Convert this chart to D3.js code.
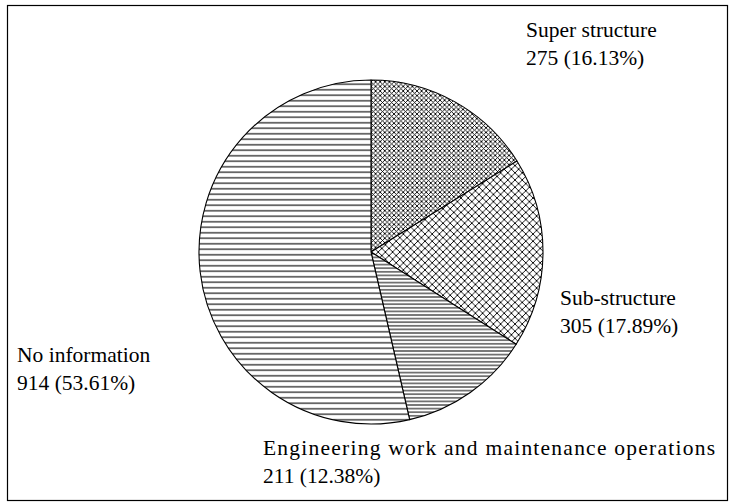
<!DOCTYPE html>
<html>
<head>
<meta charset="utf-8">
<script src="https://cdn.jsdelivr.net/npm/d3@7"></script>
<style>
  html, body { margin: 0; padding: 0; background: #fff; }
  svg text { font-family: "Liberation Serif", "Times New Roman", serif; fill: #000; }
</style>
</head>
<body>
<svg id="chart" width="731" height="504"></svg>
<script>
// data
const categories = ['Super structure', 'Sub-structure', 'Engineering work and maintenance operations', 'No information'];
const counts = [275, 305, 211, 914];
const percents = [16.13, 17.89, 12.38, 53.61];
const patternIds = ['hatchFine', 'hatchCoarse', 'linesDense', 'linesWide'];

// label placement (layout only); span = stretched width of the first line, if any
const labelPos = [
  { x: 526, y: 37 },
  { x: 560, y: 305 },
  { x: 263, y: 455, span: 452 },
  { x: 17, y: 362 }
];

const width = 731, height = 504;
const cx = 371, cy = 252, radius = 172;
const fontSize = 21.5, lineGap = 28;

const svg = d3.select('#chart');
const defs = svg.append('defs');

// diagonal crosshatch patterns
function crossHatch(id, size) {
  const p = defs.append('pattern')
    .attr('id', id)
    .attr('patternUnits', 'userSpaceOnUse')
    .attr('width', size)
    .attr('height', size);
  p.append('rect').attr('width', size).attr('height', size).attr('fill', '#fff');
  p.append('path')
    .attr('d', `M0,0L${size},${size}M${size},0L0,${size}`)
    .attr('stroke', '#000')
    .attr('stroke-width', 0.9);
}

function hLines(id, gap, sw) {
  const p = defs.append('pattern')
    .attr('id', id)
    .attr('patternUnits', 'userSpaceOnUse')
    .attr('width', 10)
    .attr('height', gap);
  p.append('rect').attr('width', 10).attr('height', gap).attr('fill', '#fff');
  p.append('line')
    .attr('x1', 0).attr('x2', 10)
    .attr('y1', gap / 2).attr('y2', gap / 2)
    .attr('stroke', '#000')
    .attr('stroke-width', sw);
}

crossHatch('hatchFine', 4.6);
crossHatch('hatchCoarse', 7.2);
hLines('linesDense', 3.6, 1);
hLines('linesWide', 5.5, 1.1);

// outer frame
svg.append('rect')
  .attr('x', 7.5).attr('y', 5.5)
  .attr('width', 720).attr('height', 495)
  .attr('fill', 'none')
  .attr('stroke', '#000')
  .attr('stroke-width', 1.2);

const pie = d3.pie().sort(null).value(d => d);
const arcs = pie(counts);
const arc = d3.arc().innerRadius(0).outerRadius(radius);

const g = svg.append('g').attr('transform', `translate(${cx},${cy})`);

g.selectAll('path')
  .data(arcs)
  .enter()
  .append('path')
  .attr('d', arc)
  .attr('fill', (d, i) => `url(#${patternIds[i]})`)
  .attr('stroke', '#000')
  .attr('stroke-width', 1.1)
  .attr('stroke-linejoin', 'round');

const labels = svg.selectAll('g.label')
  .data(categories)
  .enter()
  .append('g')
  .attr('class', 'label');

labels.append('text')
  .attr('x', (d, i) => labelPos[i].x)
  .attr('y', (d, i) => labelPos[i].y)
  .attr('font-size', fontSize)
  .each(function (d, i) {
    if (labelPos[i].span) {
      d3.select(this)
        .attr('textLength', labelPos[i].span)
        .attr('lengthAdjust', 'spacing');
    }
  })
  .text(d => d);

labels.append('text')
  .attr('x', (d, i) => labelPos[i].x)
  .attr('y', (d, i) => labelPos[i].y + lineGap)
  .attr('font-size', fontSize)
  .text((d, i) => `${counts[i]} (${percents[i].toFixed(2)}%)`);
</script>
</body>
</html>
